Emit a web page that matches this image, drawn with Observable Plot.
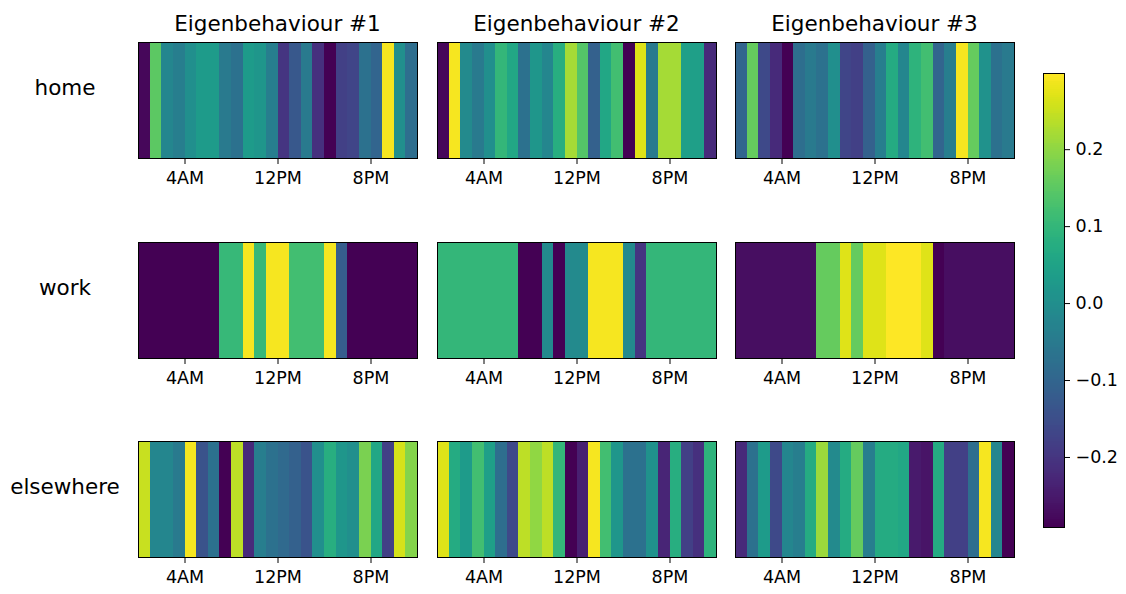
<!DOCTYPE html>
<html>
<head>
<meta charset="utf-8">
<script src="https://cdn.jsdelivr.net/npm/d3@7"></script>
<script src="https://cdn.jsdelivr.net/npm/@observablehq/plot@0.6"></script>
<style>
  html, body { margin: 0; padding: 0; background: #fff; }
  #chart { position: relative; width: 1126px; height: 594px; background: #fff; overflow: hidden; font-family: "DejaVu Sans", sans-serif; }
  #chart svg { position: absolute; }
</style>
</head>
<body>
<div id="chart"></div>
<script>
// ---------- data ----------
const locations = ["home", "work", "elsewhere"];
const titles = ["Eigenbehaviour #1", "Eigenbehaviour #2", "Eigenbehaviour #3"];
const hours = [0, 1, 2, 3, 4, 5, 6, 7, 8, 9, 10, 11, 12, 13, 14, 15, 16, 17, 18, 19, 20, 21, 22, 23];
const tickHours = [4, 12, 20];
const tickLabels = ["4AM", "12PM", "8PM"];
const colorTicks = [-0.2, -0.1, 0.0, 0.1, 0.2];
const colorDomain = [-0.291, 0.299];

const home1 = [-0.28, 0.15, -0.02, -0.04, 0.0, 0.03, 0.03, -0.05, -0.07, 0.03, 0.02, -0.04, -0.2, -0.13, -0.05, -0.21, -0.29, -0.18, -0.17, -0.07, -0.1, 0.29, 0.0, -0.08];
const home2 = [-0.28, 0.29, -0.01, -0.05, 0.0, 0.1, 0.06, -0.07, 0.02, -0.02, 0.08, 0.22, 0.14, -0.11, 0.06, 0.12, -0.29, 0.27, -0.05, 0.22, 0.22, 0.04, 0.04, -0.22];
const home3 = [-0.1, 0.16, -0.16, -0.22, -0.29, -0.08, -0.05, -0.07, 0.0, -0.17, -0.18, -0.11, -0.04, 0.07, -0.02, 0.09, 0.12, -0.1, -0.04, 0.29, 0.16, 0.01, -0.07, -0.05];
const work1 = [-0.291, -0.291, -0.291, -0.291, -0.291, -0.291, -0.291, 0.105, 0.105, 0.29, 0.105, 0.29, 0.29, 0.12, 0.12, 0.12, 0.29, -0.12, -0.291, -0.291, -0.291, -0.291, -0.291, -0.291];
const work2 = [0.1, 0.1, 0.1, 0.1, 0.1, 0.1, 0.1, -0.29, -0.29, -0.01, -0.29, -0.01, -0.01, 0.29, 0.29, 0.29, -0.01, -0.2, 0.1, 0.1, 0.1, 0.1, 0.1, 0.1];
const work3 = [-0.27, -0.27, -0.27, -0.27, -0.27, -0.27, -0.27, 0.16, 0.16, 0.27, 0.16, 0.27, 0.27, 0.299, 0.299, 0.299, 0.27, -0.291, -0.27, -0.27, -0.27, -0.27, -0.27, -0.27];
const elsewhere1 = [0.25, -0.02, -0.02, -0.05, 0.29, -0.14, -0.07, -0.29, 0.24, -0.22, -0.04, -0.07, -0.09, -0.11, -0.14, 0.0, 0.08, 0.02, 0.0, 0.18, 0.06, -0.18, 0.26, 0.19];
const elsewhere2 = [0.27, 0.07, 0.03, 0.12, 0.04, -0.08, -0.16, 0.24, 0.2, 0.24, 0.1, -0.29, -0.24, 0.29, 0.12, 0.02, -0.07, -0.07, 0.01, -0.23, 0.08, -0.18, -0.21, 0.09];
const elsewhere3 = [-0.22, -0.07, 0.03, -0.16, -0.02, -0.04, 0.07, 0.21, -0.01, 0.07, 0.16, -0.04, 0.07, 0.07, 0.06, -0.25, -0.26, 0.07, -0.18, -0.18, -0.08, 0.29, -0.02, -0.29];

const grid = [
  [home1, home2, home3],
  [work1, work2, work3],
  [elsewhere1, elsewhere2, elsewhere3]
];

// ---------- layout ----------
const colX = [138, 437, 735];
const rowY = [42, 241.5, 441];
const PW = 279, PH = 116;
const ML = 30, MT = 2, MB = 40;
const FONT = "DejaVu Sans";
const TICK_FONT = "17.5px";
const LABEL_FONT = 21.5;

const chart = document.getElementById("chart");

function panel(values, x0, y0) {
  const data = hours.map((h, i) => ({h, v: values[i]}));
  const svg = Plot.plot({
    width: PW + 2 * ML,
    height: PH + MT + MB,
    marginLeft: ML, marginRight: ML, marginTop: MT, marginBottom: MB,
    x: {
      domain: [0, 24],
      ticks: tickHours,
      tickFormat: d => tickLabels[tickHours.indexOf(d)],
      tickSize: 6,
      tickPadding: 7,
      label: null
    },
    y: {axis: null},
    color: {type: "linear", scheme: "viridis", domain: colorDomain},
    marks: [
      Plot.rect(data, {x1: "h", x2: d => d.h + 1, fill: "v", shapeRendering: "crispEdges"}),
      Plot.frame({stroke: "#000", strokeWidth: 1})
    ],
    style: {fontFamily: FONT, fontSize: TICK_FONT, color: "#000", background: "transparent", overflow: "visible"}
  });
  svg.style.left = (x0 - ML) + "px";
  svg.style.top = (y0 - MT) + "px";
  chart.appendChild(svg);
}

grid.forEach((row, r) => row.forEach((vals, c) => panel(vals, colX[c], rowY[r])));

// ---------- colorbar ----------
const cbX = 1043, cbY = 73, cbW = 21, cbH = 454;
const cbMT = 10, cbMB = 10, cbML = 1, cbMR = 70;
const nStrips = 227;
const strips = [];
for (let i = 0; i < nStrips; i++) {
  const a = colorDomain[0] + (colorDomain[1] - colorDomain[0]) * i / nStrips;
  const b = colorDomain[0] + (colorDomain[1] - colorDomain[0]) * (i + 1) / nStrips;
  strips.push({a, b, m: (a + b) / 2});
}
const cb = Plot.plot({
  width: cbW + cbML + cbMR,
  height: cbH + cbMT + cbMB,
  marginLeft: cbML, marginRight: cbMR, marginTop: cbMT, marginBottom: cbMB,
  y: {
    domain: colorDomain,
    axis: "right",
    ticks: colorTicks,
    tickFormat: d3.format(".1f"),
    tickSize: 5,
    tickPadding: 6,
    label: null
  },
  color: {type: "linear", scheme: "viridis", domain: colorDomain},
  marks: [
    Plot.rect(strips, {y1: "a", y2: "b", fill: "m", shapeRendering: "crispEdges"}),
    Plot.frame({stroke: "#000", strokeWidth: 1})
  ],
  style: {fontFamily: FONT, fontSize: TICK_FONT, color: "#000", background: "transparent", overflow: "visible"}
});
cb.style.left = (cbX - cbML) + "px";
cb.style.top = (cbY - cbMT) + "px";
chart.appendChild(cb);

// ---------- titles & row labels ----------
const overlay = d3.select(chart).append("svg")
  .attr("width", 1126).attr("height", 594)
  .style("left", "0px").style("top", "0px")
  .style("pointer-events", "none")
  .attr("font-family", FONT)
  .attr("fill", "#000");

overlay.selectAll("text.title").data(titles).join("text")
  .attr("class", "title")
  .attr("x", (d, i) => colX[i] + PW / 2)
  .attr("y", 31)
  .attr("text-anchor", "middle")
  .attr("font-size", LABEL_FONT)
  .text(d => d);

overlay.selectAll("text.row").data(locations).join("text")
  .attr("class", "row")
  .attr("x", 65)
  .attr("y", (d, i) => rowY[i] + PH / 2 - 5)
  .attr("text-anchor", "middle")
  .attr("font-size", LABEL_FONT)
  .text(d => d);
</script>
</body>
</html>
